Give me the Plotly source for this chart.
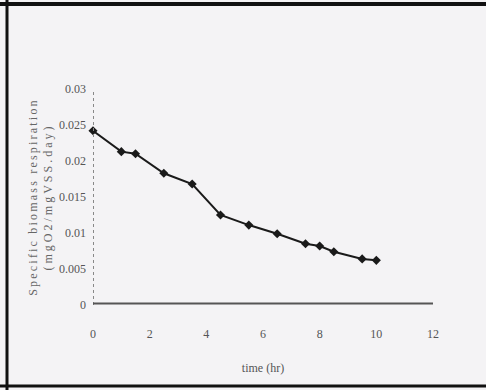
import plotly.graph_objects as go

time_hr = [0, 1.0, 1.5, 2.5, 3.5, 4.5, 5.5, 6.5, 7.5, 8.0, 8.5, 9.5, 10.0]
respiration = [0.0242, 0.0213, 0.0210, 0.0183, 0.0168, 0.0125, 0.0111, 0.0099, 0.0085, 0.0082, 0.0074, 0.0064, 0.0062]
x_ticks = [0, 2, 4, 6, 8, 10, 12]
y_ticks = [0, 0.005, 0.01, 0.015, 0.02, 0.025, 0.03]
y_tick_text = ["0", "0.005", "0.01", "0.015", "0.02", "0.025", "0.03"]
y_title_lines = ["Specific biomass respiration", "(mgO2/mgVSS.day)"]
x_title = "time (hr)"

font = dict(family="Liberation Serif, Times New Roman, serif", size=12, color="#555")

W, H = 486, 390
pl, pr, pt, pb = 93, 53, 89, 85

fig = go.Figure()
fig.add_trace(go.Scatter(
    x=time_hr, y=respiration, mode="lines+markers",
    line=dict(color="#1a1a1a", width=2),
    marker=dict(symbol="diamond", size=7, color="#1a1a1a"),
    cliponaxis=False, showlegend=False,
))

y_title = ('<span style="letter-spacing:2.2px">' + y_title_lines[0] + '</span><br>'
           '<span style="letter-spacing:3px">' + y_title_lines[1] + '</span>')

fig.update_layout(
    width=W, height=H,
    margin=dict(l=pl, r=pr, t=pt, b=pb),
    paper_bgcolor="#f4f3f5", plot_bgcolor="#f4f3f5",
    font=font,
    xaxis=dict(range=[0, 12], tickvals=x_ticks, ticktext=[str(v) for v in x_ticks],
               showgrid=False, zeroline=False, showline=False, ticks="",
               ticklabelstandoff=20,
               title=dict(text=x_title, standoff=23, font=dict(size=12, color="#555"))),
    yaxis=dict(range=[0, 0.03], tickvals=y_ticks, ticktext=y_tick_text,
               showgrid=False, zeroline=False, showline=False, ticks="",
               ticklabelstandoff=6,
               title=dict(text=y_title, standoff=3,
                          font=dict(size=12, color="#666"))),
)

# dotted y axis and solid x axis
fig.add_shape(type="line", xref="x", yref="y", x0=0, x1=0, y0=0, y1=0.0305,
              line=dict(color="#888", width=2, dash="dot"))
fig.add_shape(type="line", xref="x", yref="y", x0=0, x1=12.1, y0=0.0002, y1=0.0002,
              line=dict(color="#555", width=2))

# scan frame (top, left, bottom) in pixel-based paper coordinates
pw, ph = W - pl - pr, H - pt - pb
def px(xp):
    return (xp - pl) / pw
def py(yp):
    return (H - pb - yp) / ph
fig.add_shape(type="line", xref="paper", yref="paper", x0=px(0), x1=px(486), y0=py(4), y1=py(4),
              line=dict(color="#111", width=4))
fig.add_shape(type="line", xref="paper", yref="paper", x0=px(7), x1=px(7), y0=py(0), y1=py(390),
              line=dict(color="#111", width=3))
fig.add_shape(type="line", xref="paper", yref="paper", x0=px(0), x1=px(486), y0=py(386), y1=py(386),
              line=dict(color="#111", width=3))

fig.write_html("out.html", config={"displayModeBar": False},
               post_script="document.body.style.margin='0';document.body.style.padding='0';")
